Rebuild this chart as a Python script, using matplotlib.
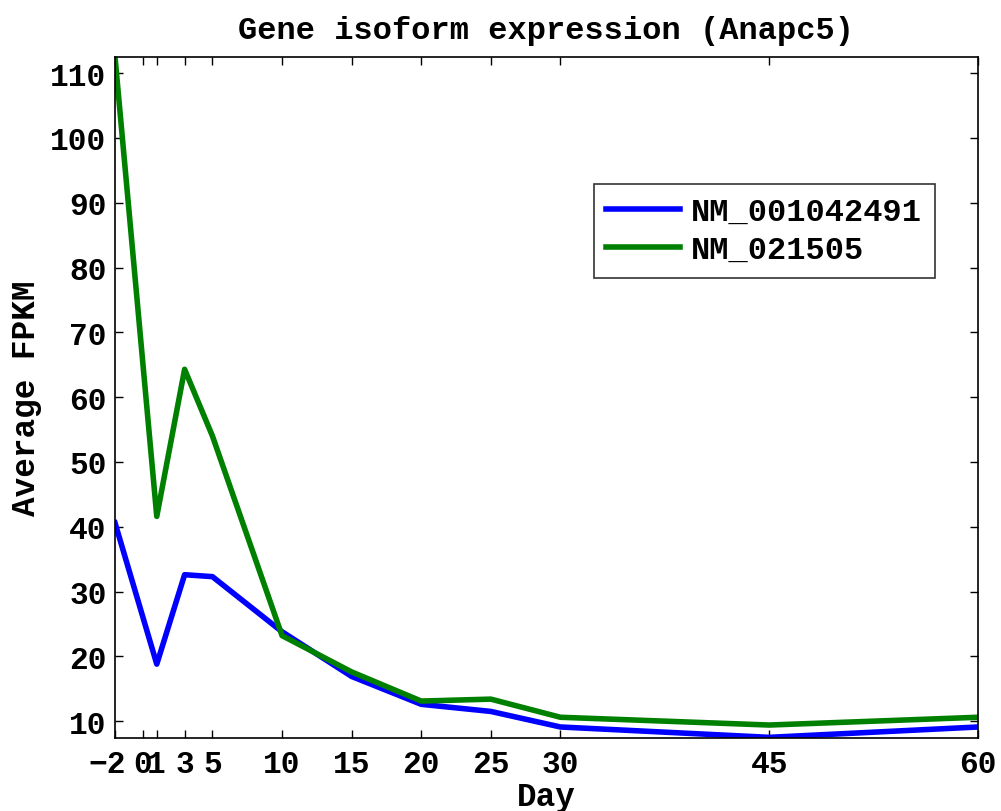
import matplotlib
matplotlib.use("Agg")
import matplotlib.pyplot as plt
import matplotlib.transforms as mtransforms

# data
days = [-2, 1, 3, 5, 10, 15, 20, 25, 30, 45, 60]
nm_001042491 = [40.6, 18.8, 32.6, 32.3, 23.8, 16.9, 12.6, 11.5, 9.1, 7.5, 9.1]
nm_021505 = [112.5, 41.6, 64.3, 54.0, 23.2, 17.6, 13.1, 13.4, 10.6, 9.4, 10.6]
xticks = [-2, 0, 1, 3, 5, 10, 15, 20, 25, 30, 45, 60]
yticks = [10, 20, 30, 40, 50, 60, 70, 80, 90, 100, 110]

plt.rcParams['font.family'] = ['Liberation Mono', 'DejaVu Sans Mono']
plt.rcParams['font.weight'] = 'bold'

fig = plt.figure(figsize=(10.01, 8.12), dpi=100)
ax = fig.add_axes([0.1149, 0.0899, 0.977 - 0.1149, 0.9286 - 0.0899])

ax.plot(days, nm_001042491, color='#0000ff', lw=4, label='NM_001042491')
ax.plot(days, nm_021505, color='#008000', lw=4, label='NM_021505')

ax.set_xlim(-2, 60)
ax.set_ylim(7.4, 112.5)
ax.set_xticks(xticks)
ax.set_yticks(yticks)
ax.tick_params(direction='in', top=True, right=True, length=6, width=1,
               labelsize=22.5)
ax.tick_params(axis='x', pad=8)
ax.tick_params(axis='y', pad=6)
for lab in ax.get_xticklabels() + ax.get_yticklabels():
    lab.set_fontweight('bold')
for s in ax.spines.values():
    s.set_linewidth(1.2)

# the -2 label sits a bit left of its tick in the original
first = ax.get_xticklabels()[0]
first.set_transform(first.get_transform() +
                    mtransforms.ScaledTranslation(-8 / 100, 0, fig.dpi_scale_trans))

ax.set_title('Gene isoform expression (Anapc5)', fontsize=23, fontweight='bold', pad=14)
ax.set_xlabel('Day', fontsize=23.5, fontweight='bold', labelpad=1)
ax.set_ylabel('Average FPKM', fontsize=23.5, fontweight='bold', labelpad=6)

leg = ax.legend(loc='upper right', bbox_to_anchor=(0.950, 0.8135), fontsize=23,
                frameon=True, fancybox=False, edgecolor='black',
                borderaxespad=0, handlelength=2.3, handletextpad=0.35,
                borderpad=0.4, labelspacing=0.25)
leg.get_frame().set_linewidth(1.2)
for t in leg.get_texts():
    t.set_fontweight('bold')

fig.savefig('out.png', dpi=100)
